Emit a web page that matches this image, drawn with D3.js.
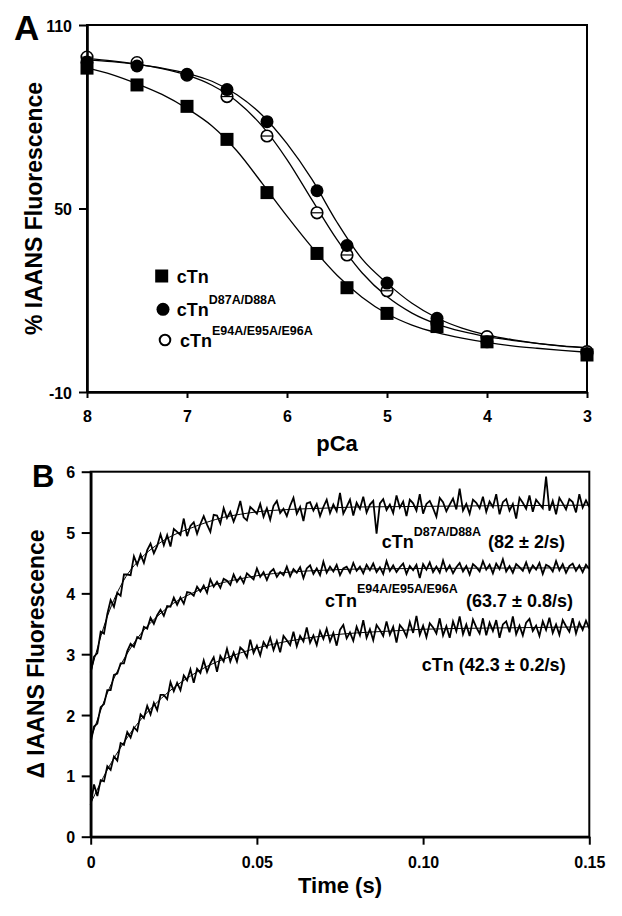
<!DOCTYPE html>
<html><head><meta charset="utf-8">
<script src="https://cdn.jsdelivr.net/npm/d3@7"></script>
<style>body{margin:0;background:#fff}</style>
</head><body>
<script>
// ---------- Panel A data ----------
const pCa = [8, 7.5, 7, 6.6, 6.2, 5.7, 5.4, 5.0, 4.5, 4.0, 3.0];
const fluorWT   = [95.9, 90.4, 83.4, 72.6, 55.2, 35.3, 24.1, 15.7, 11.4, 6.4, 2.1];
const fluorD87  = [97.9, 96.6, 93.9, 88.9, 78.4, 55.8, 37.9, 25.6, 14.1, 6.4, 2.6];
const fluorE94  = [99.5, 97.7, 93.6, 86.6, 73.7, 48.6, 34.8, 23.1, 12.5, 8.1, 3.2];
const fitPCa = [8, 7.75, 7.5, 7.25, 7, 6.75, 6.5, 6.25, 6, 5.75, 5.5, 5.25, 5, 4.75, 4.5, 4.25, 4, 3.75, 3.5, 3.25, 3];
const fitWT  = [96.0, 93.8, 90.8, 87.3, 82.7, 77.0, 68.8, 58.3, 47.5, 37.3, 28.2, 21.0, 15.6, 11.9, 9.4, 7.6, 6.2, 5.1, 4.3, 3.6, 3.0];
const fitD87 = [98.6, 98.0, 97.1, 95.9, 94.2, 91.6, 87.2, 80.6, 71.2, 59.5, 45.5, 33.5, 25.6, 19.0, 14.2, 10.9, 8.7, 7.1, 5.9, 5.0, 4.4];
const fitE94 = [99.0, 98.3, 97.2, 95.7, 93.6, 90.3, 85.0, 77.0, 66.0, 52.8, 39.8, 29.0, 21.2, 15.8, 12.2, 9.8, 8.1, 6.9, 5.9, 5.1, 4.5];
const yTicksA = [110, 50, -10];
const xTicksA = [8, 7, 6, 5, 4, 3];

// ---------- Panel B data (sampled every 1 ms) ----------
const sampleMs = 1;
const traceD87 = [2.70,2.96,3.02,3.37,3.34,3.66,3.89,3.78,4.01,3.96,4.31,4.31,4.30,4.61,4.47,4.64,4.50,4.71,4.82,4.66,
4.78,4.97,4.79,4.96,4.77,5.06,5.01,4.96,5.23,4.94,5.11,5.17,4.98,5.14,5.27,5.13,5.01,5.29,5.28,5.15,
5.40,5.24,5.34,5.18,5.32,5.52,5.25,5.20,5.42,5.37,5.31,5.47,5.26,5.40,5.21,5.44,5.52,5.32,5.39,5.27,
5.44,5.57,5.31,5.42,5.19,5.48,5.50,5.36,5.47,5.27,5.42,5.54,5.32,5.46,5.35,5.65,5.31,5.42,5.54,5.28,
5.49,5.39,5.59,5.33,5.46,5.52,4.98,5.48,5.55,5.37,5.46,5.32,5.61,5.41,5.51,5.27,5.54,5.48,5.36,5.63,
5.31,5.47,5.52,5.40,5.26,5.57,5.50,5.35,5.46,5.56,5.38,5.72,5.36,5.47,5.31,5.54,5.49,5.40,5.59,5.34,
5.51,5.42,5.63,5.30,5.50,5.55,5.36,5.47,5.23,5.57,5.49,5.39,5.61,5.34,5.54,5.47,5.40,5.92,5.36,5.52,
5.30,5.57,5.48,5.38,5.55,5.50,5.33,5.63,5.41,5.53,5.42];
const traceE94 = [1.55,1.81,1.86,2.13,2.18,2.41,2.41,2.66,2.68,2.85,2.85,3.05,3.17,3.12,3.28,3.25,3.45,3.42,3.60,3.50,
3.64,3.73,3.63,3.79,3.78,3.93,3.81,3.93,3.83,4.02,4.01,3.96,4.11,4.03,4.13,4.01,4.23,4.11,4.19,4.09,
4.24,4.21,4.14,4.31,4.19,4.27,4.17,4.33,4.28,4.23,4.41,4.27,4.35,4.22,4.35,4.40,4.27,4.35,4.30,4.44,
4.28,4.40,4.34,4.43,4.25,4.41,4.46,4.32,4.41,4.30,4.52,4.34,4.44,4.36,4.47,4.30,4.41,4.44,4.34,4.50,
4.37,4.44,4.33,4.47,4.38,4.49,4.35,4.43,4.32,4.53,4.37,4.46,4.35,4.43,4.49,4.32,4.45,4.38,4.47,4.25,
4.48,4.39,4.51,4.35,4.44,4.34,4.54,4.37,4.46,4.33,4.43,4.50,4.36,4.45,4.31,4.48,4.43,4.36,4.53,4.39,
4.47,4.33,4.49,4.40,4.56,4.36,4.45,4.34,4.48,4.43,4.37,4.51,4.35,4.46,4.39,4.50,4.32,4.47,4.44,4.36,
4.53,4.38,4.48,4.34,4.45,4.49,4.37,4.46,4.35,4.47,4.40];
const traceWT = [0.52,0.86,0.67,0.93,0.91,1.16,1.10,1.32,1.25,1.54,1.51,1.72,1.63,1.80,1.74,2.01,1.95,2.15,2.01,2.20,
2.08,2.33,2.33,2.26,2.54,2.39,2.53,2.41,2.65,2.57,2.75,2.53,2.76,2.69,2.90,2.71,2.85,2.95,2.71,2.97,
2.88,3.09,2.88,3.03,2.88,3.11,3.06,2.95,3.24,3.02,3.14,2.98,3.20,3.11,3.27,3.07,3.22,3.03,3.30,3.23,
3.15,3.37,3.13,3.30,3.21,3.44,3.19,3.31,3.15,3.38,3.25,3.42,3.21,3.35,3.14,3.40,3.48,3.26,3.36,3.22,
3.45,3.31,3.56,3.27,3.41,3.23,3.48,3.40,3.30,3.54,3.32,3.45,3.19,3.48,3.41,3.29,3.53,3.35,3.63,3.32,
3.47,3.28,3.51,3.44,3.34,3.59,3.31,3.46,3.27,3.54,3.38,3.62,3.33,3.49,3.30,3.57,3.44,3.34,3.59,3.31,
3.52,3.38,3.56,3.27,3.49,3.54,3.36,3.62,3.33,3.47,3.31,3.52,3.58,3.38,3.47,3.30,3.54,3.40,3.60,3.35,
3.49,3.32,3.56,3.46,3.37,3.59,3.34,3.52,3.40,3.55,3.42];
const fitTimeMs = [0, 5, 10, 15, 20, 25, 30, 35, 40, 45, 50, 60, 70, 80, 90, 100, 120, 150];
const fitTraceD87 = [2.70, 3.62, 4.22, 4.57, 4.80, 4.96, 5.07, 5.17, 5.25, 5.30, 5.34, 5.38, 5.40, 5.42, 5.425, 5.43, 5.44, 5.45];
const fitTraceE94 = [1.60, 2.36, 2.92, 3.33, 3.62, 3.84, 3.99, 4.10, 4.18, 4.24, 4.29, 4.35, 4.38, 4.40, 4.405, 4.41, 4.415, 4.42];
const fitTraceWT  = [0.55, 1.10, 1.55, 1.92, 2.21, 2.45, 2.64, 2.80, 2.92, 3.02, 3.10, 3.22, 3.30, 3.35, 3.38, 3.41, 3.43, 3.45];
const yTicksB = [0, 1, 2, 3, 4, 5, 6];
const xTicksB = [0, 0.05, 0.10, 0.15];

// ---------- drawing ----------
const FF = "'Liberation Sans', Arial, Helvetica, sans-serif";
const svg = d3.select("body").append("svg")
  .attr("width", 622).attr("height", 916)
  .style("font-family", FF).style("font-weight", "bold");
svg.append("rect").attr("width", 622).attr("height", 916).attr("fill", "#fff");

function styleAxis(g, fs) {
  g.select(".domain").attr("stroke-width", 2.6);
  g.selectAll(".tick line").attr("stroke-width", 2);
  g.selectAll(".tick text").attr("font-size", fs).attr("font-family", FF).attr("font-weight", "bold").attr("fill", "#000");
}
const plainInt = d => String(d); // hyphen-minus like the original

// ===== Panel A =====
const xA = d3.scaleLinear().domain([8, 3]).range([87, 587]);
const yA = d3.scaleLinear().domain([-10, 110]).range([392, 25]);
const gA = svg.append("g");
gA.append("rect").attr("x", 87).attr("y", 25).attr("width", 500).attr("height", 367)
  .attr("fill", "none").attr("stroke", "#000").attr("stroke-width", 2);

const lineA = (ys) => d3.line().x((d, i) => xA(fitPCa[i])).y(d => yA(d)).curve(d3.curveMonotoneX)(ys);
[fitWT, fitD87, fitE94].forEach(f => {
  gA.append("path").attr("d", lineA(f)).attr("fill", "none").attr("stroke", "#000").attr("stroke-width", 1.3);
});

// markers
pCa.forEach((p, i) => {
  gA.append("circle").attr("cx", xA(p)).attr("cy", yA(fluorE94[i])).attr("r", 5.8)
    .attr("fill", "#fff").attr("stroke", "#000").attr("stroke-width", 1.6);
  gA.append("line").attr("x1", xA(p) - 5).attr("x2", xA(p) + 5).attr("y1", yA(fluorE94[i])).attr("y2", yA(fluorE94[i]))
    .attr("stroke", "#000").attr("stroke-width", 1.2);
});
pCa.forEach((p, i) => {
  gA.append("circle").attr("cx", xA(p)).attr("cy", yA(fluorD87[i])).attr("r", 6.5).attr("fill", "#000");
});
pCa.forEach((p, i) => {
  gA.append("rect").attr("x", xA(p) - 6.5).attr("y", yA(fluorWT[i]) - 6.5).attr("width", 13).attr("height", 13).attr("fill", "#000");
});

const axLA = gA.append("g").attr("transform", "translate(87,0)")
  .call(d3.axisLeft(yA).tickValues(yTicksA).tickSize(8).tickSizeOuter(0).tickFormat(plainInt));
styleAxis(axLA, 16);
axLA.selectAll(".tick text").attr("x", -15).attr("dy", 6);
const axBA = gA.append("g").attr("transform", "translate(0,392)")
  .call(d3.axisBottom(xA).tickValues(xTicksA).tickSize(6).tickSizeOuter(0).tickFormat(plainInt));
styleAxis(axBA, 16);
axBA.selectAll(".tick text").attr("y", 29.5).attr("dy", null);

gA.append("text").attr("x", 337).attr("y", 451).attr("text-anchor", "middle").attr("font-size", 22).text("pCa");
gA.append("text").attr("transform", "translate(41.5,208.5) rotate(-90)").attr("text-anchor", "middle")
  .attr("font-size", 23).text("% IAANS Fluorescence");
gA.append("text").attr("x", 14).attr("y", 40).attr("font-size", 35).text("A");

// legend
const legendNames = ["cTn", "cTn", "cTn"];
const legendSups = ["", "D87A/D88A", "E94A/E95A/E96A"];
gA.append("rect").attr("x", 155.2).attr("y", 269.5).attr("width", 13).attr("height", 13).attr("fill", "#000");
gA.append("circle").attr("cx", 163).attr("cy", 309.3).attr("r", 6.5).attr("fill", "#000");
gA.append("circle").attr("cx", 165).attr("cy", 340).attr("r", 5.3).attr("fill", "#fff").attr("stroke", "#000").attr("stroke-width", 2);
const legY = [282.7, 316, 346.7], legX = [176.7, 176.7, 180];
legendNames.forEach((n, i) => {
  const t = gA.append("text").attr("x", legX[i]).attr("y", legY[i]).attr("font-size", 18).text(n);
  if (legendSups[i]) t.append("tspan").attr("dy", -12).attr("font-size", 12.5).text(legendSups[i]);
});

// ===== Panel B =====
const xB = d3.scaleLinear().domain([0, 0.15]).range([90.7, 589.3]);
const yB = d3.scaleLinear().domain([0, 6]).range([836.7, 471.7]);
const gB = svg.append("g");
gB.append("rect").attr("x", 90.7).attr("y", 471.7).attr("width", 498.6).attr("height", 365)
  .attr("fill", "none").attr("stroke", "#000").attr("stroke-width", 2);

const traceLine = d3.line().x((d, i) => xB(i * sampleMs / 1000)).y(d => yB(d));
[traceD87, traceE94, traceWT].forEach(tr => {
  gB.append("path").attr("d", traceLine(tr)).attr("fill", "none").attr("stroke", "#000")
    .attr("stroke-width", 1.8).attr("stroke-linejoin", "miter");
});
const fitLine = d3.line().x((d, i) => xB(fitTimeMs[i] / 1000)).y(d => yB(d)).curve(d3.curveMonotoneX);
[fitTraceD87, fitTraceE94, fitTraceWT].forEach(f => {
  gB.append("path").attr("d", fitLine(f)).attr("fill", "none").attr("stroke", "#000").attr("stroke-width", 1);
});

const axLB = gB.append("g").attr("transform", "translate(90.7,0)")
  .call(d3.axisLeft(yB).tickValues(yTicksB).tickSize(9).tickSizeOuter(0).tickFormat(plainInt));
styleAxis(axLB, 16);
axLB.selectAll(".tick text").attr("x", -15.5).attr("dy", 6);
const axBB = gB.append("g").attr("transform", "translate(0,836.7)")
  .call(d3.axisBottom(xB).tickValues(xTicksB).tickSize(8).tickSizeOuter(0)
    .tickFormat(d => d === 0 ? "0" : d3.format(".2f")(d)));
styleAxis(axBB, 16);
axBB.selectAll(".tick text").attr("y", 31.3).attr("dy", null);

gB.append("text").attr("x", 340).attr("y", 893).attr("text-anchor", "middle").attr("font-size", 22).text("Time (s)");
gB.append("text").attr("transform", "translate(43.5,654) rotate(-90)").attr("text-anchor", "middle")
  .attr("font-size", 23).text("Δ IAANS Fluorescence");
gB.append("text").attr("x", 32).attr("y", 487).attr("font-size", 31).text("B");

// trace labels
const rateLabels = ["(82 ± 2/s)", "(63.7 ± 0.8/s)"];
const t1 = gB.append("text").attr("x", 381.7).attr("y", 548.3).attr("font-size", 18).text("cTn");
t1.append("tspan").attr("dy", -12.3).attr("font-size", 12.5).text("D87A/D88A");
gB.append("text").attr("x", 488).attr("y", 548.3).attr("font-size", 18).text(rateLabels[0]);
const t2 = gB.append("text").attr("x", 325).attr("y", 606.7).attr("font-size", 18).text("cTn");
t2.append("tspan").attr("dy", -14).attr("font-size", 12.5).text("E94A/E95A/E96A");
gB.append("text").attr("x", 466).attr("y", 606.7).attr("font-size", 18).text(rateLabels[1]);
gB.append("text").attr("x", 421.7).attr("y", 670.7).attr("font-size", 18).text("cTn (42.3 ± 0.2/s)");
</script>
</body></html>
